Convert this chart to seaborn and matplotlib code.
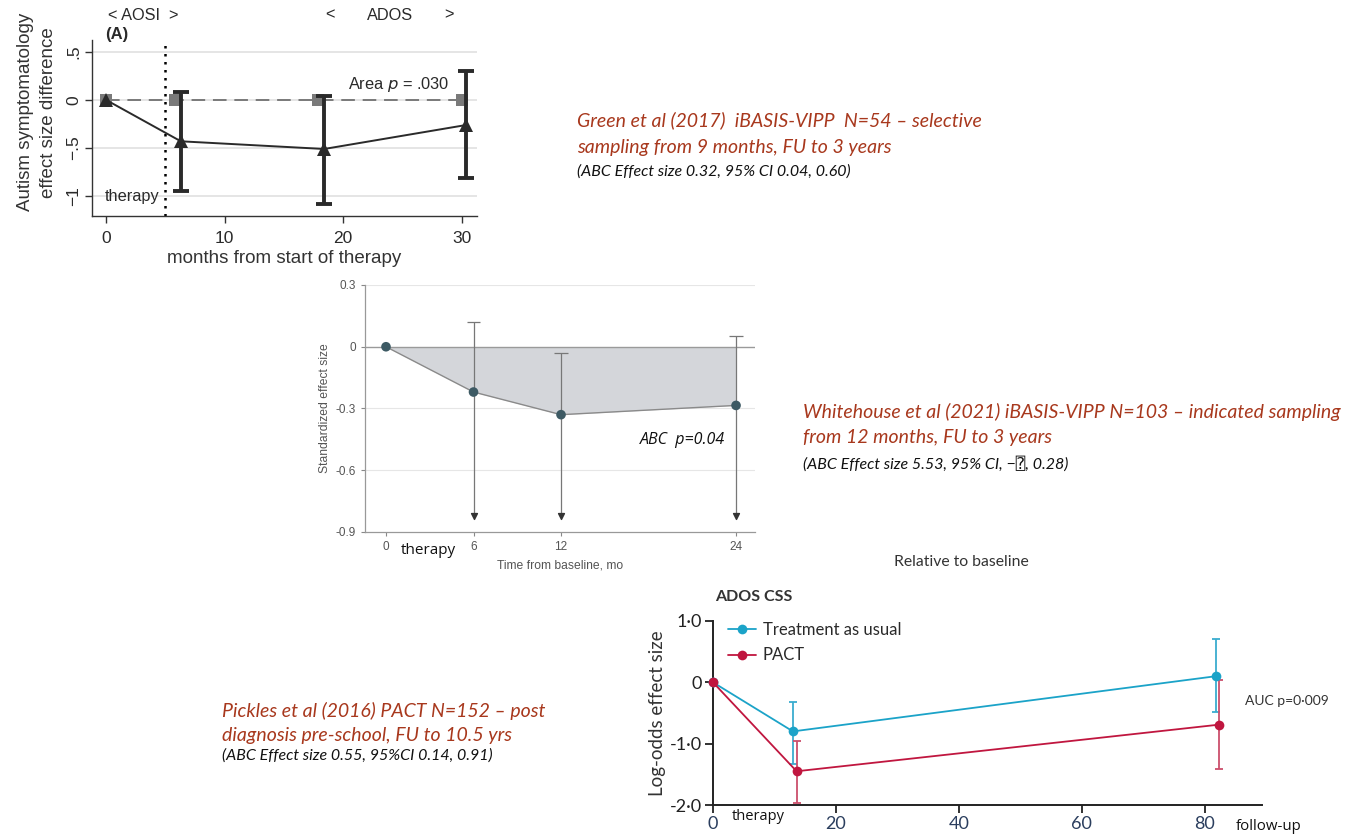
import numpy as np
import matplotlib
matplotlib.use("Agg")
import matplotlib.pyplot as plt
import seaborn as sns
import pandas as pd

# ---- Panel A: Green et al (2017) ----
a_months = [0, 6.3, 18.4, 30.4]
a_effect = [0, -0.43, -0.51, -0.26]
a_lo = [np.nan, -0.95, -1.08, -0.81]
a_hi = [np.nan, 0.08, 0.04, 0.30]
a_ref_months = [0, 5.8, 17.9, 30]
a_ref = [0, 0, 0, 0]

# ---- Panel B: Whitehouse et al (2021) ----
b_months = [0, 6, 12, 24]
b_effect = [0, -0.22, -0.33, -0.285]
b_hi = [np.nan, 0.12, -0.03, 0.05]
b_lo = [np.nan, -0.82, -0.82, -0.82]

# ---- Panel C: Pickles et al (2016) ----
c_tau_months = [0, 13.0, 81.8]
c_tau = [0, -0.80, 0.10]
c_tau_lo = [np.nan, -1.33, -0.49]
c_tau_hi = [np.nan, -0.32, 0.70]
c_pact_months = [0, 13.6, 82.3]
c_pact = [0, -1.45, -0.69]
c_pact_lo = [np.nan, -1.97, -1.42]
c_pact_hi = [np.nan, -0.95, 0.03]

W, H = 1345, 836
sns.set_theme(style="white")
plt.rcParams['font.family'] = ['Liberation Sans', 'DejaVu Sans']
fig = plt.figure(figsize=(W / 100, H / 100), dpi=100)


def box(l, t, r, b):
    return [l / W, 1 - b / H, (r - l) / W, (b - t) / H]


def px(x, y):
    return x / W, 1 - y / H


red = "#a8381d"
note_font = ['Lato', 'DejaVu Sans']
lato = ['Lato', 'DejaVu Sans']
dark = "#2a2a2a"

# ================= Panel A =================
ax = fig.add_axes(box(92, 40, 477, 216))
ax.set_xlim(-1.2, 31.3)
ax.set_ylim(-1.208, 0.625)
for yv in [0.5, 0, -0.5, -1]:
    ax.axhline(yv, color="#e3e3e3", lw=1.3, zorder=0)
df_ref = pd.DataFrame({"m": a_ref_months, "e": a_ref})
sns.lineplot(data=df_ref, x="m", y="e", ax=ax, color="#7a7a7a", lw=1.4,
             marker="s", markersize=8, markeredgewidth=0, zorder=3)
ax.lines[-1].set_dashes([7, 4])
ax.axvline(5, color="black", ls=(0, (1, 2.2)), lw=1.8, zorder=2)
df_a = pd.DataFrame({"m": a_months, "e": a_effect})
sns.lineplot(data=df_a, x="m", y="e", ax=ax, color=dark, lw=1.4,
             marker="^", markersize=10, markeredgewidth=0, zorder=4)
a_err = np.array([np.array(a_effect) - np.array(a_lo),
                  np.array(a_hi) - np.array(a_effect)])
ax.errorbar(a_months, a_effect, yerr=a_err, fmt="none", ecolor=dark,
            elinewidth=2.8, capsize=6, capthick=2.8, zorder=5)
ax.set_xticks([0, 10, 20, 30])
ax.set_yticks([0.5, 0, -0.5, -1])
ax.set_yticklabels([".5", "0", "\u2212.5", "\u22121"], rotation=90, va="center")
ax.tick_params(axis="both", labelsize=12.5, length=5, width=1, color="#333333",
               labelcolor=dark, bottom=True, left=True, direction="out", pad=3)
ax.tick_params(axis="x", pad=6)
for s in ["top", "right"]:
    ax.spines[s].set_visible(False)
for s in ["left", "bottom"]:
    ax.spines[s].set_color("#333333")
    ax.spines[s].set_linewidth(1)
ax.set_xlabel("months from start of therapy", fontsize=13.5, color="#333333", labelpad=3)
ax.set_ylabel("Autism symptomatology\neffect size difference", fontsize=13.5,
              color="#333333", linespacing=1.45)
ax.yaxis.set_label_coords(-0.092, 0.59)
fig.text(*px(105, 35), "(A)", fontsize=12, fontweight="bold", va="center", color=dark)
fig.text(*px(105, 197), "therapy", fontsize=11.8, va="center", color=dark)
fig.text(*px(348, 84), "Area $p$ = .030", fontsize=11.8, va="center", color=dark)
fig.text(*px(108, 15), "< AOSI  >", fontsize=11.8, va="center", color=dark)
fig.text(*px(325, 15), "<", fontsize=11.8, va="center", color=dark)
fig.text(*px(367, 15), "ADOS", fontsize=11.8, va="center", color=dark)
fig.text(*px(444, 15), ">", fontsize=11.8, va="center", color=dark)

# ================= Panel B =================
bx = fig.add_axes(box(365, 285, 755, 532))
bx.set_xlim(-1.44, 25.3)
bx.set_ylim(-0.9, 0.3)
for yv in [0.3, -0.3, -0.6]:
    bx.axhline(yv, color="#e6e6e6", lw=0.8, zorder=0)
bx.fill_between(b_months, b_effect, 0, color="#d4d6da", lw=0, zorder=1)
bx.axhline(0, color="#9a9a9a", lw=1, zorder=2)
df_b = pd.DataFrame({"m": b_months, "e": b_effect})
sns.lineplot(data=df_b, x="m", y="e", ax=bx, color="#8a8a8a", lw=1,
             zorder=3)
bx.vlines(b_months[1:], b_lo[1:], b_hi[1:], color="#777777", lw=0.9, zorder=3)
bx.hlines(b_hi[1:], np.array(b_months[1:]) - 0.45, np.array(b_months[1:]) + 0.45,
          color="#777777", lw=0.9, zorder=3)
bx.scatter(b_months[1:], b_lo[1:], marker="v", s=18, color="#333333", zorder=4)
sns.scatterplot(x=b_months, y=b_effect, ax=bx, color="#3d5a64", s=48,
                edgecolor="none", zorder=5, clip_on=False)
bx.set_xticks(b_months)
bx.set_yticks([0.3, 0, -0.3, -0.6, -0.9])
bx.set_yticklabels(["0.3", "0", "-0.3", "-0.6", "-0.9"])
bx.tick_params(axis="both", labelsize=8.5, labelcolor="#555555", length=3,
               width=0.8, color="#888888", bottom=True, left=True, direction="out")
for s in ["top", "right"]:
    bx.spines[s].set_visible(False)
for s in ["left", "bottom"]:
    bx.spines[s].set_color("#999999")
    bx.spines[s].set_linewidth(0.9)
bx.set_xlabel("Time from baseline, mo", fontsize=8.7, color="#555555", labelpad=5)
bx.set_ylabel("Standardized effect size", fontsize=8.7, color="#555555", labelpad=3)
fig.text(*px(401, 551), "therapy", fontsize=11, va="center", color="#111111",
         family=['Open Sans', 'DejaVu Sans'])
fig.text(*px(640, 440), "ABC  p=0.04", fontsize=11.5, va="center", color="#111111",
         style="italic", family=['Open Sans', 'DejaVu Sans'])

# ================= Panel C =================
cx = fig.add_axes(box(713, 621, 1262, 805))
cx.set_xlim(0, 89.3)
cx.set_ylim(-2.0, 1.0)
teal = "#1ba3c8"
crim = "#c0163f"
df_tau = pd.DataFrame({"m": c_tau_months, "e": c_tau})
df_pact = pd.DataFrame({"m": c_pact_months, "e": c_pact})
sns.lineplot(data=df_tau, x="m", y="e", ax=cx, color=teal, lw=1.3, marker="o",
             markersize=7, markeredgewidth=0, label="Treatment as usual",
             clip_on=False, zorder=4)
sns.lineplot(data=df_pact, x="m", y="e", ax=cx, color=crim, lw=1.3, marker="o",
             markersize=7, markeredgewidth=0, label="PACT", clip_on=False, zorder=5)
tau_err = np.array([np.array(c_tau) - np.array(c_tau_lo),
                    np.array(c_tau_hi) - np.array(c_tau)])
pact_err = np.array([np.array(c_pact) - np.array(c_pact_lo),
                     np.array(c_pact_hi) - np.array(c_pact)])
cx.errorbar(c_tau_months, c_tau, yerr=tau_err, fmt="none", ecolor="#3aaccf",
            elinewidth=1.3, capsize=3, capthick=1.3, zorder=3, clip_on=False)
cx.errorbar(c_pact_months, c_pact, yerr=pact_err, fmt="none", ecolor="#cc4f6c",
            elinewidth=1.3, capsize=3, capthick=1.3, zorder=3, clip_on=False)
cx.set_xticks([0, 20, 40, 60, 80])
cx.set_yticks([1, 0, -1, -2])
cx.set_yticklabels(["1\u00b70", "0", "-1\u00b70", "-2\u00b70"])
cx.tick_params(axis="both", labelsize=13, length=6, width=1.3, color="#222222",
               bottom=True, left=True, direction="out", pad=2)
for lab in cx.get_xticklabels():
    lab.set_color("#2b3e5e")
    lab.set_family(lato)
for lab in cx.get_yticklabels():
    lab.set_family(lato)
    lab.set_color("#222222")
for s in ["top", "right"]:
    cx.spines[s].set_visible(False)
for s in ["left", "bottom"]:
    cx.spines[s].set_color("#222222")
    cx.spines[s].set_linewidth(1.4)
cx.set_xlabel("")
cx.set_ylabel("Log-odds effect size", fontsize=13.5, color="#333333", labelpad=3,
              family=lato)
leg = cx.legend(loc="upper left", bbox_to_anchor=(0.0, 1.075), frameon=False,
                handlelength=1.7, handletextpad=0.4, labelspacing=0.55,
                prop={'family': lato, 'size': 12})
for t in leg.get_texts():
    t.set_color("#2a2a2a")
fig.text(*px(715, 597), "ADOS CSS", fontsize=11.5, fontweight="bold", va="center",
         color="#333333", family=lato)
fig.text(*px(894, 562), "Relative to baseline", fontsize=11.3, va="center",
         color="#333333", family=lato)
fig.text(*px(1245, 701), "AUC p=0\u00b7009", fontsize=10, va="center",
         color="#333333", family=lato)
fig.text(*px(732, 817), "therapy", fontsize=10.5, va="center", color="#111111",
         family=['Open Sans', 'DejaVu Sans'])
fig.text(*px(1236, 826), "follow-up", fontsize=10.8, va="center", color="#111111",
         family=['Open Sans', 'DejaVu Sans'])

# ================= study notes =================
big, small = 14, 11.5
fig.text(*px(577, 120), "Green et al (2017)  iBASIS-VIPP  N=54 \u2013 selective",
         fontsize=big, style="italic", color=red, va="center", family=note_font)
fig.text(*px(577, 148), "sampling from 9 months, FU to 3 years",
         fontsize=big, style="italic", color=red, va="center", family=note_font)
fig.text(*px(577, 172), "(ABC Effect size 0.32, 95% CI 0.04, 0.60)",
         fontsize=small, style="italic", color="#111111", va="center", family=note_font)

fig.text(*px(803, 412), "Whitehouse et al (2021) iBASIS-VIPP N=103 \u2013 indicated sampling",
         fontsize=big, style="italic", color=red, va="center", family=note_font)
fig.text(*px(803, 438), "from 12 months, FU to 3 years",
         fontsize=big, style="italic", color=red, va="center", family=note_font)
fig.text(*px(803, 464), "(ABC Effect size 5.53, 95% CI, \u2212\u2370, 0.28)",
         fontsize=small, style="italic", color="#111111", va="center",
         family=['Lato', 'DejaVu Sans', 'DejaVu Sans Mono'])

fig.text(*px(222, 711), "Pickles et al (2016) PACT N=152 \u2013 post",
         fontsize=big, style="italic", color=red, va="center", family=note_font)
fig.text(*px(222, 736), "diagnosis pre-school, FU to 10.5 yrs",
         fontsize=big, style="italic", color=red, va="center", family=note_font)
fig.text(*px(222, 756), "(ABC Effect size 0.55, 95%CI 0.14, 0.91)",
         fontsize=small, style="italic", color="#111111", va="center", family=note_font)

fig.savefig("out.png", dpi=100)
